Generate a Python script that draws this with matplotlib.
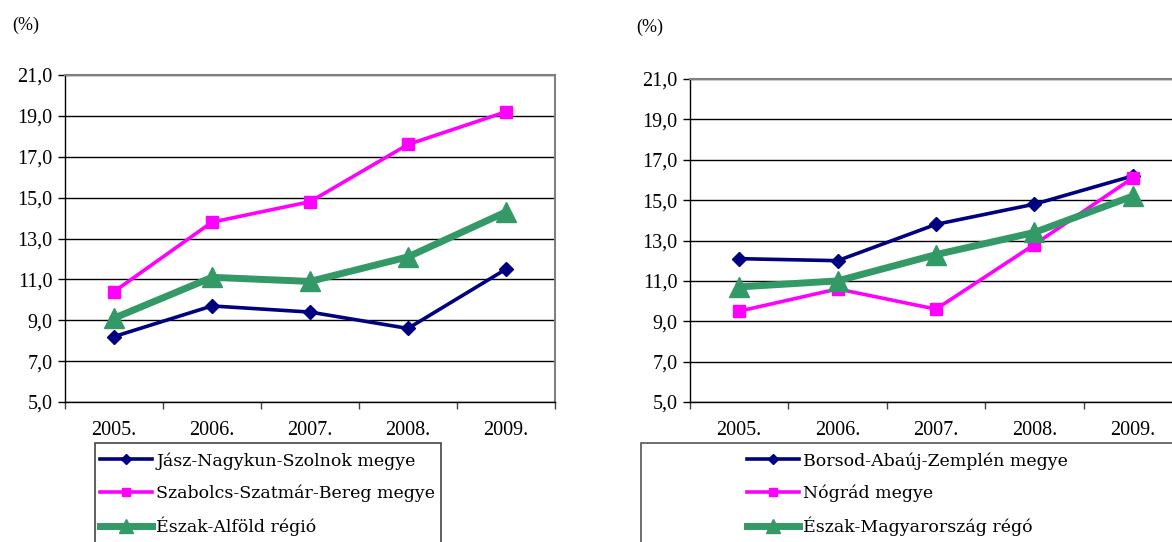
import matplotlib as mpl
mpl.use('Agg')
import matplotlib.pyplot as plt
from matplotlib.patches import Rectangle

years = ['2005.', '2006.', '2007.', '2008.', '2009.']

# Észak-Alföld
jasz = [8.2, 9.7, 9.4, 8.6, 11.5]
szabolcs = [10.4, 13.8, 14.8, 17.6, 19.2]
eszak_alfold = [9.1, 11.1, 10.9, 12.1, 14.3]

# Észak-Magyarország
borsod = [12.1, 12.0, 13.8, 14.8, 16.2]
nograd = [9.5, 10.6, 9.6, 12.8, 16.1]
eszak_magyar = [10.7, 11.0, 12.3, 13.4, 15.2]

left_labels = ['Jász-Nagykun-Szolnok megye', 'Szabolcs-Szatmár-Bereg megye', 'Észak-Alföld régió']
right_labels = ['Borsod-Abaúj-Zemplén megye', 'Nógrád megye', 'Észak-Magyarország régó']

yticks = [5, 7, 9, 11, 13, 15, 17, 19, 21]

NAVY = '#000080'
PINK = '#FF00FF'
GREEN = '#339966'

W, H = 1172, 542
TICKFONT = 'Liberation Serif'
LEGFONT = 'DejaVu Serif'


def draw_panel(ax, series, labels):
	x = [i + 0.5 for i in range(len(years))]
	styles = [
		dict(color=NAVY, lw=2.6, marker='D', ms=7),
		dict(color=PINK, lw=2.6, marker='s', ms=8),
		dict(color=GREEN, lw=5, marker='^', ms=14),
	]
	lines = []
	for vals, lab, st in zip(series, labels, styles):
		l, = ax.plot(x, vals, label=lab, mec=st['color'], mfc=st['color'], **st)
		lines.append(l)
	ax.set_xlim(0, len(years))
	ax.set_ylim(5, 21)
	ax.set_yticks(yticks)
	ax.set_yticklabels(['%d,0' % v for v in yticks], fontfamily=TICKFONT, fontsize=14.5)
	ax.set_xticks(x)
	ax.set_xticklabels(years, fontfamily=TICKFONT, fontsize=14.5)
	ax.set_xticks(range(len(years) + 1), minor=True)
	ax.tick_params(axis='x', which='major', length=0, pad=14)
	ax.tick_params(axis='x', which='minor', length=5, width=1, color='#444444')
	ax.tick_params(axis='y', length=5, width=1, pad=4)
	ax.yaxis.grid(True, color='black', lw=1)
	ax.set_axisbelow(True)
	for s in ['top', 'right']:
		ax.spines[s].set_color('#808080')
		ax.spines[s].set_linewidth(1.5)
	ax.spines['left'].set_linewidth(1)
	ax.spines['bottom'].set_linewidth(1)
	return lines


fig = plt.figure(figsize=(W / 100, H / 100), dpi=100)

axL = fig.add_axes([65 / W, 1 - 402 / H, 490 / W, 327 / H])
linesL = draw_panel(axL, [jasz, szabolcs, eszak_alfold], left_labels)

axR = fig.add_axes([690 / W, 1 - 402 / H, 492 / W, 323 / H])
linesR = draw_panel(axR, [borsod, nograd, eszak_magyar], right_labels)

fig.text(12 / W, 1 - 25 / H, '(%)', fontfamily=TICKFONT, fontsize=13, va='center')
fig.text(636 / W, 1 - 27 / H, '(%)', fontfamily=TICKFONT, fontsize=13, va='center')

legkw = dict(loc='upper left', frameon=False, numpoints=1, borderpad=0, borderaxespad=0,
	handlelength=3.0, handletextpad=0.25, labelspacing=0.85, markerscale=0.7,
	prop={'family': LEGFONT, 'size': 12.5})
fig.legend(handles=linesL, bbox_to_anchor=(100 / W, 1 - 452 / H), **legkw)
fig.legend(handles=linesR, bbox_to_anchor=(747 / W, 1 - 452 / H), **legkw)

# legend frames (run off the bottom / right edge like in the source)
fig.patches.append(Rectangle((95 / W, -0.05), 346 / W, 0.05 + (542 - 443) / H,
	transform=fig.transFigure, fill=False, ec='#444444', lw=1.2))
fig.patches.append(Rectangle((641 / W, -0.05), 540 / W, 0.05 + (542 - 443) / H,
	transform=fig.transFigure, fill=False, ec='#555555', lw=1.2))

fig.savefig('out.png', dpi=100)
